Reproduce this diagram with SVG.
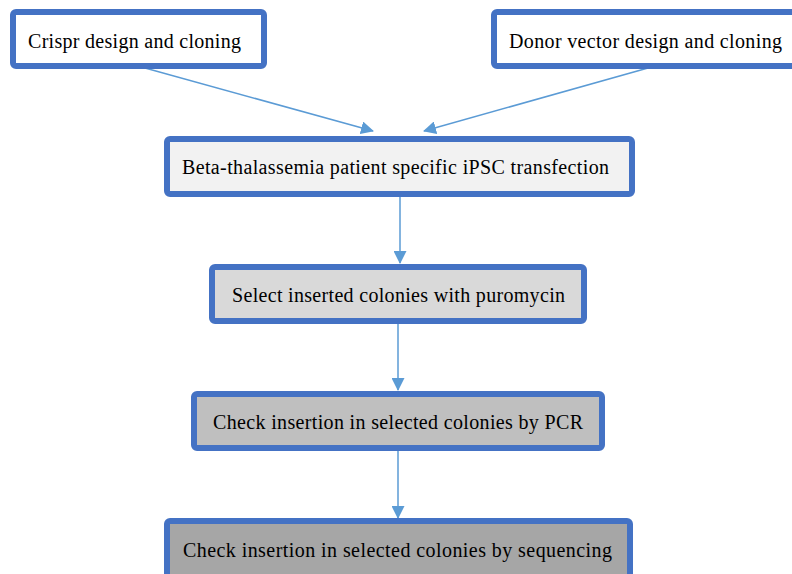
<svg xmlns="http://www.w3.org/2000/svg" width="792" height="574" viewBox="0 0 792 574">
<style>
.box{stroke:#4472c4;stroke-width:6;}
.t{font-family:"Liberation Serif","Times New Roman",serif;font-size:20px;fill:#000;}
.c{stroke:#5b9bd5;stroke-width:1.5;fill:none;marker-end:url(#ah);}
</style>
<defs>
<marker id="ah" markerWidth="13" markerHeight="13" refX="12" refY="6.5" orient="auto" markerUnits="userSpaceOnUse" viewBox="0 0 13 13">
<path d="M0,0 L13,6.5 L0,13 Z" fill="#5b9bd5"/>
</marker>
</defs>
<rect width="792" height="574" fill="#fff"/>
<g id="connectors">
<line class="c" x1="145" y1="68" x2="373" y2="131"/>
<line class="c" x1="648" y1="68" x2="424" y2="131"/>
<line class="c" x1="400" y1="197" x2="400" y2="263"/>
<line class="c" x1="398" y1="324" x2="398" y2="390"/>
<line class="c" x1="398" y1="451" x2="398" y2="518"/>
</g>
<g id="crispr">
<rect class="box" x="13" y="12" width="251" height="54" rx="3" fill="#ffffff"/>
<text class="t" x="28" y="48" textLength="213" lengthAdjust="spacing">Crispr design and cloning</text>
</g>
<g id="donor">
<rect class="box" x="494" y="12" width="310" height="54" rx="3" fill="#ffffff"/>
<text class="t" x="509" y="48" textLength="273" lengthAdjust="spacing">Donor vector design and cloning</text>
</g>
<g id="transfection">
<rect class="box" x="167" y="139" width="465" height="55" rx="3" fill="#f2f2f2"/>
<text class="t" x="182" y="174" textLength="427" lengthAdjust="spacing">Beta-thalassemia patient specific iPSC transfection</text>
</g>
<g id="select">
<rect class="box" x="212" y="267" width="372" height="54" rx="3" fill="#d9d9d9"/>
<text class="t" x="232" y="302" textLength="333" lengthAdjust="spacing">Select inserted colonies with puromycin</text>
</g>
<g id="pcr">
<rect class="box" x="194" y="394" width="408" height="54" rx="3" fill="#bfbfbf"/>
<text class="t" x="213" y="429" textLength="370" lengthAdjust="spacing">Check insertion in selected colonies by PCR</text>
</g>
<g id="sequencing">
<rect class="box" x="167" y="521" width="463" height="70" rx="3" fill="#a6a6a6"/>
<text class="t" x="183" y="557" textLength="429" lengthAdjust="spacing">Check insertion in selected colonies by sequencing</text>
</g>
</svg>
